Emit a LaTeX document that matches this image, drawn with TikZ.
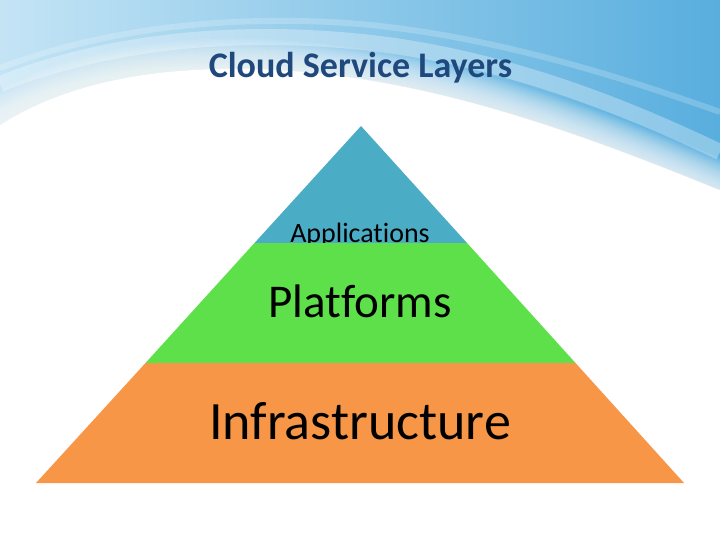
\documentclass[tikz,border=0pt]{standalone}
\usepackage{fontspec}
\setmainfont{Carlito}[Ligatures={NoCommon,NoRequired,NoContextual}]
\definecolor{skyblue}{RGB}{88,174,222}
\definecolor{paleblue}{RGB}{196,228,245}
\definecolor{appblue}{RGB}{75,172,198}
\definecolor{platgreen}{RGB}{94,224,74}
\definecolor{infraorange}{RGB}{247,150,70}
\definecolor{titleblue}{RGB}{31,73,125}
\def\swoosh{(0,0) -- (720,0) -- (720,190) .. controls (560,125) and (380,58) .. (190,70) .. controls (95,76) and (35,102) .. (0,125) -- cycle}
\def\swooshedge{(720,190) .. controls (560,125) and (380,58) .. (190,70) .. controls (95,76) and (35,102) .. (0,125)}
\def\applayer{(361,126) -- (467,243) -- (254.5,243) -- cycle}
\def\platlayer{(254.5,243) -- (467,243) -- (575.5,363) -- (145.5,363) -- cycle}
\def\infralayer{(145.5,363) -- (575.5,363) -- (684,483) -- (36,483) -- cycle}
\tikzset{
  layertext/.style={inner sep=0pt, anchor=base, text=black},
  titletext/.style={inner sep=0pt, anchor=base, text=titleblue, font=\bfseries\fontsize{36}{40}\selectfont}
}

\begin{document}
\begin{tikzpicture}[x=1pt,y=-1pt]
    \useasboundingbox (0,0) rectangle (720,540);
    \fill[white] (0,0) rectangle (720,540);
    % background swoosh
    \shade[left color=paleblue, right color=skyblue] \swoosh;
    \foreach \w in {3,6,...,60}
        \draw[white, opacity=0.07, line width=\w pt] \swooshedge;
    \draw[white, opacity=0.3, line width=16pt] (0,84) .. controls (100,44) and (230,26) .. (380,44) .. controls (520,62) and (640,114) .. (720,152);
    \draw[white, opacity=0.2, line width=6pt] (0,68) .. controls (90,34) and (200,16) .. (330,22) .. controls (450,28) and (580,62) .. (720,112);
    \node[titletext] (title) at (360.5,78) {Cloud Service Layers};
    % pyramid
    \fill[appblue] \applayer;
    \node[layertext, font=\fontsize{28}{30}\selectfont] (apps) at (360,243) {Applications};
    \fill[platgreen] \platlayer;
    \node[layertext, font=\fontsize{47}{49}\selectfont] (plat) at (360,317) {Platforms};
    \fill[infraorange] \infralayer;
    \node[layertext, font=\fontsize{54}{56}\selectfont] (infra) at (360,439) {Infrastructure};
\end{tikzpicture}
\end{document}
